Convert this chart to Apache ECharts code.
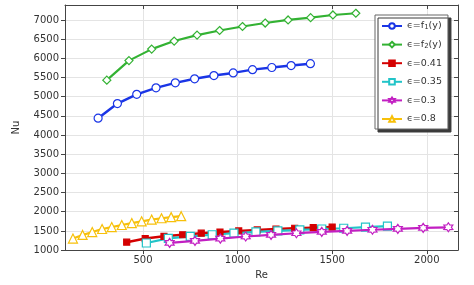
<!DOCTYPE html>
<html>
<head>
<meta charset="utf-8">
<script src="https://cdn.jsdelivr.net/npm/echarts@6/dist/echarts.min.js"></script>
<style>html,body{margin:0;padding:0;background:#fff}#c{width:474px;height:285px}</style>
</head>
<body>
<div id="c"></div>
<script>
// Data
const seriesNames = ['ϵ=f1(y)', 'ϵ=f2(y)', 'ϵ=0.41', 'ϵ=0.35', 'ϵ=0.3', 'ϵ=0.8'];

const reF1 = [263, 365, 467, 569, 671, 773, 875, 977, 1079, 1181, 1283, 1385];
const nuF1 = [4440, 4820, 5060, 5230, 5360, 5465, 5550, 5620, 5705, 5760, 5810, 5860];

const reF2 = [309, 426, 546, 665, 786, 905, 1026, 1146, 1267, 1386, 1504, 1625];
const nuF2 = [5430, 5940, 6240, 6450, 6605, 6725, 6830, 6920, 7000, 7060, 7130, 7175];

const re041 = [414, 512, 611, 710, 808, 907, 1006, 1104, 1203, 1302, 1400, 1500];
const nu041 = [1207, 1300, 1360, 1400, 1440, 1470, 1500, 1525, 1550, 1570, 1585, 1600];

const re035 = [518, 634, 750, 866, 981, 1097, 1213, 1329, 1445, 1561, 1676, 1792];
const nu035 = [1185, 1305, 1360, 1400, 1440, 1475, 1500, 1528, 1550, 1570, 1600, 1625];

const re03 = [641, 775, 909, 1043, 1177, 1311, 1445, 1579, 1713, 1847, 1981, 2114];
const nu03 = [1190, 1240, 1300, 1354, 1396, 1440, 1475, 1500, 1530, 1555, 1580, 1595];

const re08 = [130, 181, 232, 284, 335, 388, 441, 493, 546, 598, 649, 702];
const nu08 = [1300, 1395, 1470, 1550, 1600, 1655, 1705, 1750, 1795, 1830, 1860, 1885];

const xMin = 88, xMax = 2165;
const yMin = 1000, yMax = 7390, yStep = 500;

const FONT = 'DejaVu Sans';
const starPath = 'path://M10,0 L12.9,4.98 L18.66,5 L15.8,10 L18.66,15 L12.9,15.02 L10,20 L7.1,15.02 L1.34,15 L4.2,10 L1.34,5 L7.1,4.98 Z';

function pairs(xs, ys) { return xs.map((x, i) => [x, ys[i]]); }

const defs = [
  {name: seriesNames[0], data: pairs(reF1, nuF1), color: '#1a35e6', symbol: 'circle', size: 8, width: 2.5, fill: 'none'},
  {name: seriesNames[1], data: pairs(reF2, nuF2), color: '#33b233', symbol: 'diamond', size: 8, width: 2.2, fill: 'none'},
  {name: seriesNames[2], data: pairs(re041, nu041), color: '#d40000', symbol: 'rect', size: 6, width: 2.5, fill: 'solid'},
  {name: seriesNames[3], data: pairs(re035, nu035), color: '#22c4c8', symbol: 'rect', size: 8, width: 2.2, fill: 'none'},
  {name: seriesNames[4], data: pairs(re03, nu03), color: '#c21fc2', symbol: starPath, size: 9, width: 2.2, fill: 'none'},
  {name: seriesNames[5], data: pairs(re08, nu08), color: '#f7c00a', symbol: 'triangle', size: 9, width: 2.2, fill: 'none'}
];

const series = defs.map((d, i) => ({
  name: d.name,
  type: 'line',
  data: d.data,
  symbol: d.symbol,
  symbolSize: d.size,
  showAllSymbol: true,
  z: i === 4 ? 5 : 3,
  lineStyle: {color: d.color, width: d.width},
  itemStyle: {color: d.fill === 'solid' ? d.color : '#ffffff', borderColor: d.color, borderWidth: 1.2},
  emphasis: {disabled: true},
  animation: false
}));

const axisLineStyle = {color: '#444', width: 1};
const gridLine = {show: true, lineStyle: {color: '#e4e4e4', width: 1}};
const plain = v => String(Math.round(v));

const option = {
  animation: false,
  backgroundColor: '#ffffff',
  grid: {left: 65, right: 16, top: 5, bottom: 33, containLabel: false},
  legend: {
    left: 375, top: 15,
    orient: 'vertical',
    padding: [6, 6, 5, 6],
    itemGap: 8.6,
    itemWidth: 20, itemHeight: 7,
    backgroundColor: '#ffffff',
    borderColor: '#666', borderWidth: 1,
    shadowColor: '#3a3a3a', shadowBlur: 0, shadowOffsetX: 3, shadowOffsetY: 3,
    data: seriesNames,
    formatter: function (name) {
      const m = name.match(/^ϵ=f(\d)\(y\)$/);
      if (m) return 'ϵ=f{sub|' + m[1] + '}(y)';
      return name;
    },
    textStyle: {
      fontFamily: FONT, fontSize: 9.5, color: '#333', lineHeight: 10,
      rich: {sub: {fontFamily: FONT, fontSize: 7, color: '#333', lineHeight: 10, verticalAlign: 'bottom', padding: [3, 0, 0, 0]}}
    }
  },
  xAxis: [{
    type: 'value', min: xMin, max: xMax, position: 'bottom',
    name: 'Re', nameLocation: 'middle', nameGap: 17,
    nameTextStyle: {fontFamily: FONT, fontSize: 10, color: '#333'},
    axisLine: {show: true, onZero: false, lineStyle: axisLineStyle},
    axisTick: {show: true, inside: false, length: 4, lineStyle: axisLineStyle},
    axisLabel: {fontFamily: FONT, fontSize: 10, color: '#333', margin: 5, showMinLabel: false, showMaxLabel: false, formatter: plain},
    splitLine: gridLine
  }, {
    type: 'value', min: xMin, max: xMax, position: 'top',
    axisLine: {show: true, onZero: false, lineStyle: axisLineStyle},
    axisTick: {show: true, inside: true, length: 4, lineStyle: axisLineStyle},
    axisLabel: {show: false},
    splitLine: {show: false}
  }],
  yAxis: [{
    type: 'value', min: yMin, max: yMax, interval: yStep, position: 'left',
    name: 'Nu', nameLocation: 'middle', nameGap: 44,
    nameTextStyle: {fontFamily: FONT, fontSize: 10, color: '#333'},
    axisLine: {show: true, onZero: false, lineStyle: axisLineStyle},
    axisTick: {show: true, inside: false, length: 4, lineStyle: axisLineStyle},
    axisLabel: {fontFamily: FONT, fontSize: 10, color: '#333', margin: 6, showMaxLabel: false, formatter: plain},
    splitLine: gridLine
  }, {
    type: 'value', min: yMin, max: yMax, interval: yStep, position: 'right',
    axisLine: {show: true, onZero: false, lineStyle: axisLineStyle},
    axisTick: {show: true, inside: true, length: 4, lineStyle: axisLineStyle},
    axisLabel: {show: false},
    splitLine: {show: false}
  }],
  series: series
};

const chart = echarts.init(document.getElementById('c'), null, {renderer: 'canvas'});
chart.setOption(option);
</script>
</body>
</html>
